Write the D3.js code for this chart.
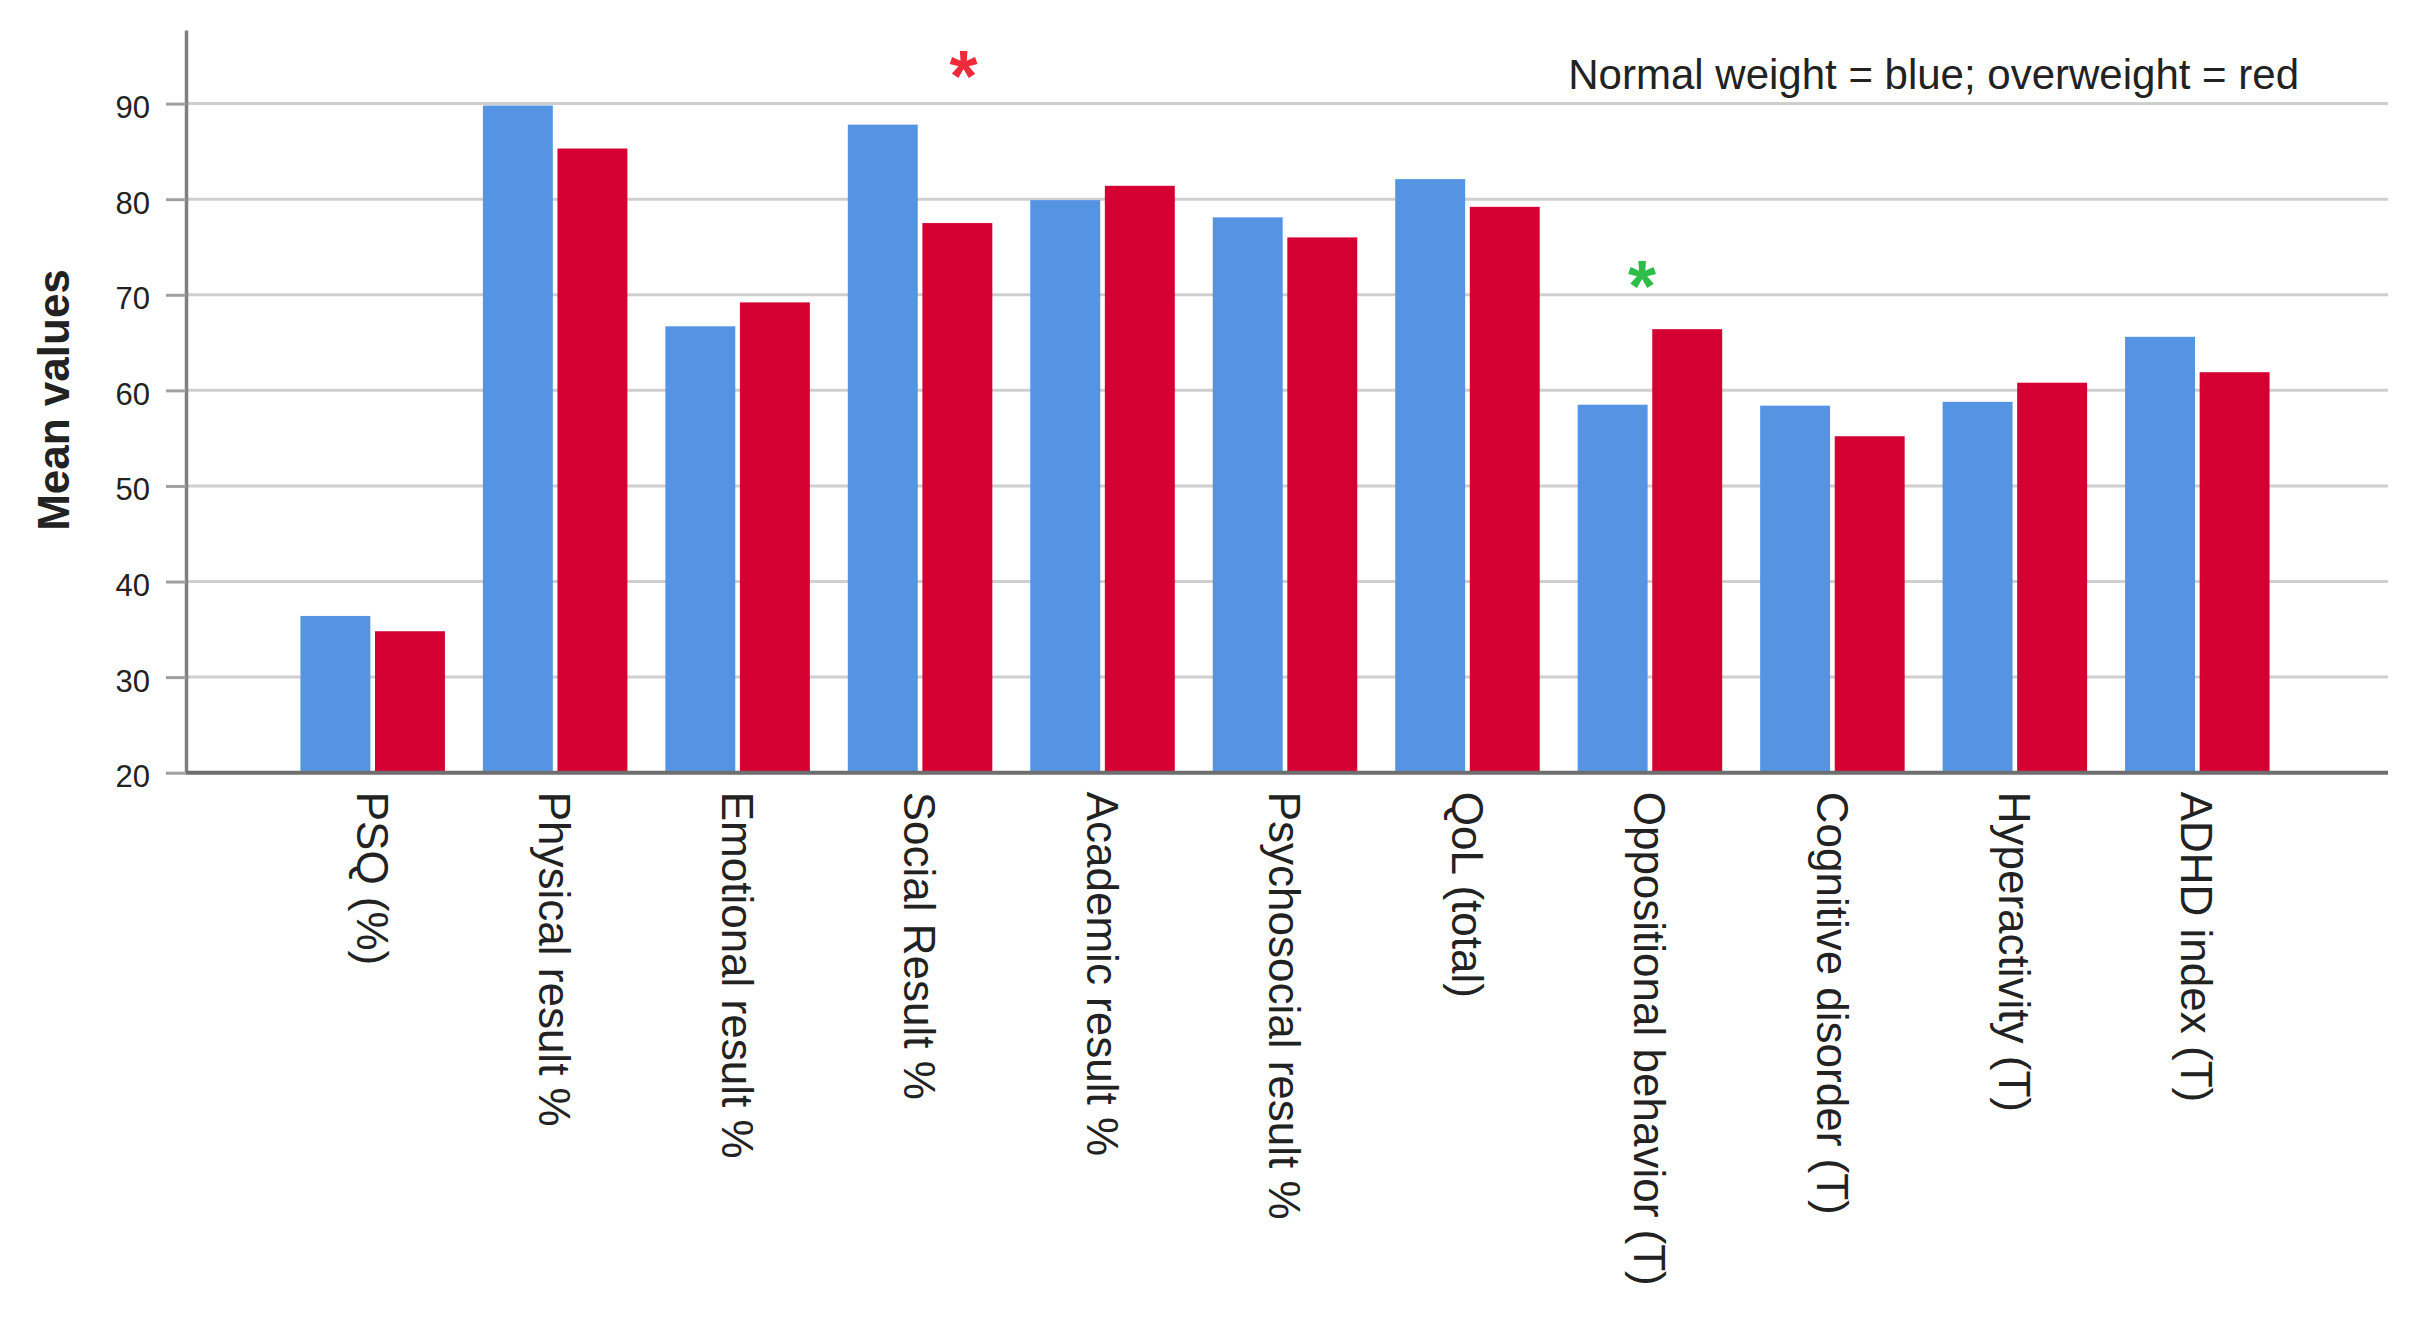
<!DOCTYPE html>
<html>
<head>
<meta charset="utf-8">
<script src="https://cdn.jsdelivr.net/npm/d3@7"></script>
<style>
  body { margin: 0; background: #fff; }
  text { font-family: "Liberation Sans", Arial, sans-serif; fill: #222; }
</style>
</head>
<body>
<div class="wrapper-chart"></div>
<script>
// categories on the x axis
const categories = [
  "PSQ (%)", "Physical result %", "Emotional result %", "Social Result %",
  "Academic result %", "Psychosocial result %", "QoL (total)",
  "Oppositional behavior (T)", "Cognitive disorder (T)", "Hyperactivity (T)", "ADHD index (T)"
];
const seriesNames = ["Normal weight", "Overweight"];
const normalWeight = [36.4, 89.8, 66.7, 87.8, 79.9, 78.1, 82.1, 58.5, 58.4, 58.8, 65.6];
const overweight   = [34.8, 85.3, 69.2, 77.5, 81.4, 76.0, 79.2, 66.4, 55.2, 60.8, 61.9];
const yTicks = [20, 30, 40, 50, 60, 70, 80, 90];
// significance marks: category, height in data units, place across the group (0..1)
const stars = [
  { category: "Social Result %", value: 94.0, pos: 0.80, color: "#ee2b3b" },
  { category: "Oppositional behavior (T)", value: 72.1, pos: 0.445, color: "#2fbd4a" }
];
const legendText = "Normal weight = blue; overweight = red";

const chartWidth = 2419, chartHeight = 1328;
const plotLeft = 186, plotRight = 2388, plotTop = 30, plotBottom = 772.7;
const colors = ["#5594e2", "#d50031"];

const svg = d3.select(".wrapper-chart")
  .append("svg")
  .attr("width", chartWidth)
  .attr("height", chartHeight)
  .attr("viewBox", [0, 0, chartWidth, chartHeight]);

const x = d3.scaleBand()
  .domain(categories)
  .range([plotLeft - 2, plotRight - 2])
  .paddingInner(0.208)
  .paddingOuter(0.638);

const xInner = d3.scaleBand()
  .domain(seriesNames)
  .range([0, x.bandwidth()])
  .paddingInner(0.062);

const y = d3.scaleLinear()
  .domain([20, 97.7])
  .range([plotBottom, plotTop]);

// gridlines
svg.append("g")
  .selectAll("line")
  .data(yTicks.slice(1))
  .join("line")
  .attr("x1", plotLeft)
  .attr("x2", plotRight)
  .attr("y1", d => y(d))
  .attr("y2", d => y(d))
  .attr("stroke", "#cfcfcf")
  .attr("stroke-width", 3);

// bars
const rows = categories.map((c, i) => ({ c, vals: [normalWeight[i], overweight[i]] }));
const groups = svg.append("g")
  .selectAll("g")
  .data(rows)
  .join("g")
  .attr("transform", d => "translate(" + x(d.c) + ",0)");

groups.selectAll("rect")
  .data(d => d.vals.map((v, k) => ({ v, k })))
  .join("rect")
  .attr("x", d => xInner(seriesNames[d.k]))
  .attr("width", xInner.bandwidth())
  .attr("y", d => y(d.v))
  .attr("height", d => y(20) - y(d.v))
  .attr("fill", d => colors[d.k]);

// y axis
const yAxis = svg.append("g")
  .attr("transform", "translate(" + plotLeft + ",0)")
  .call(d3.axisLeft(y).tickValues(yTicks).tickSize(20).tickSizeOuter(0).tickPadding(16));
yAxis.select(".domain").attr("stroke", "#808080").attr("stroke-width", 3.5);
yAxis.selectAll(".tick line").attr("stroke", "#a0a0a0").attr("stroke-width", 3);
yAxis.selectAll(".tick text")
  .attr("font-size", 31)
  .attr("dy", "0.45em")
  .style("font-family", "'Liberation Sans', Arial, sans-serif")
  .attr("fill", "#222");

// x axis
const xAxis = svg.append("g")
  .attr("transform", "translate(0," + plotBottom + ")")
  .call(d3.axisBottom(x).tickSize(0).tickSizeOuter(0));
xAxis.select(".domain")
  .attr("d", "M" + plotLeft + ",0H" + plotRight)
  .attr("stroke", "#6e6e6e").attr("stroke-width", 4);
xAxis.selectAll(".tick text")
  .attr("font-size", 44)
  .style("font-family", "'Liberation Sans', Arial, sans-serif")
  .attr("fill", "#222")
  .attr("transform", "rotate(90)")
  .attr("x", 19)
  .attr("y", 0)
  .attr("dy", "0.36em")
  .style("text-anchor", "start");

// y axis title
svg.append("text")
  .text("Mean values")
  .attr("transform", "translate(69,400) rotate(-90)")
  .attr("font-size", 44)
  .attr("font-weight", "bold")
  .style("text-anchor", "middle");

// legend note
svg.append("text")
  .text(legendText)
  .attr("x", 2299)
  .attr("y", 89)
  .attr("font-size", 42)
  .style("text-anchor", "end");

// asterisks
svg.append("g")
  .selectAll("text")
  .data(stars)
  .join("text")
  .text("*")
  .attr("x", d => x(d.category) + d.pos * x.bandwidth())
  .attr("y", d => y(d.value))
  .attr("dy", "0.5em")
  .attr("font-size", 72)
  .attr("font-weight", "bold")
  .style("text-anchor", "middle")
  .style("fill", d => d.color);
</script>
</body>
</html>
